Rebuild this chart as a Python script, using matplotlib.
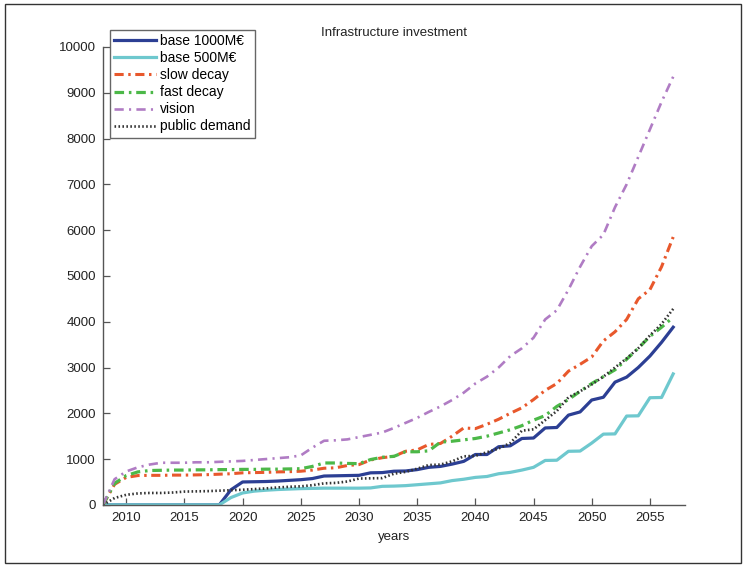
import matplotlib
matplotlib.use("Agg")
import matplotlib.pyplot as plt
from matplotlib.patches import Rectangle

plt.rcParams['font.family'] = ['Liberation Sans', 'DejaVu Sans']

years = list(range(2008, 2058))

base_1000 = [0] * 11 + [
    330, 500, 505, 510, 520, 535, 550, 575, 630, 635,
    640, 645, 700, 705, 735, 740, 770, 820, 840, 890,
    950, 1100, 1100, 1270, 1290, 1450, 1460, 1680, 1690, 1960,
    2030, 2290, 2350, 2680, 2790, 3000, 3250, 3550, 3880]

base_500 = [0] * 11 + [
    160, 260, 300, 320, 335, 345, 355, 360, 365, 365,
    365, 365, 370, 405, 410, 420, 440, 460, 480, 530,
    560, 600, 620, 680, 710, 760, 820, 970, 975, 1170,
    1175, 1350, 1545, 1550, 1940, 1945, 2340, 2345, 2860]

slow_decay = [
    0, 450, 600, 640, 645, 645, 650, 650, 655, 660,
    670, 680, 700, 705, 710, 720, 725, 735, 760, 800,
    810, 860, 880, 980, 1030, 1060, 1170, 1200, 1320, 1340,
    1500, 1680, 1665, 1760, 1870, 2000, 2120, 2300, 2500, 2650,
    2920, 3070, 3230, 3580, 3780, 4050, 4500, 4700, 5200, 5850]

fast_decay = [
    0, 470, 640, 720, 750, 755, 760, 760, 765, 765,
    770, 770, 775, 775, 780, 780, 785, 790, 840, 915,
    915, 905, 900, 990, 1040, 1060, 1160, 1160, 1180, 1370,
    1390, 1420, 1450, 1500, 1570, 1640, 1730, 1850, 1950, 2150,
    2300, 2480, 2650, 2800, 2950, 3180, 3420, 3680, 3880, 4100]

vision = [
    0, 560, 730, 820, 880, 920, 920, 920, 930, 930,
    940, 950, 960, 980, 1000, 1020, 1040, 1080, 1250, 1400,
    1410, 1430, 1480, 1530, 1580, 1680, 1790, 1900, 2030, 2150,
    2290, 2450, 2650, 2800, 3000, 3250, 3420, 3650, 4050, 4250,
    4700, 5200, 5650, 5900, 6500, 7000, 7600, 8200, 8800, 9350]

public_demand = [
    0, 150, 220, 250, 260, 260, 270, 290, 295, 300,
    310, 320, 330, 345, 360, 380, 395, 405, 430, 470,
    480, 510, 575, 580, 585, 680, 720, 790, 870, 880,
    950, 1060, 1070, 1150, 1230, 1350, 1620, 1650, 1850, 2050,
    2350, 2480, 2630, 2800, 3000, 3200, 3420, 3700, 3950, 4280]

labels = ['base 1000M€', 'base 500M€', 'slow decay', 'fast decay',
          'vision', 'public demand']

fig = plt.figure(figsize=(7.46, 5.66), dpi=100)
ax = fig.add_axes([0.138, 0.108, 0.780, 0.809])

ax.plot(years, base_1000, color='#2c3f94', lw=2.3, label=labels[0])
ax.plot(years, base_500, color='#6ec8ce', lw=2.3, label=labels[1])
ax.plot(years, slow_decay, color='#e8582c', lw=2.2,
        linestyle=(0, (3.0, 1.5, 0.8, 1.5)), label=labels[2])
ax.plot(years, fast_decay, color='#4cb848', lw=2.3,
        linestyle=(0, (3.0, 1.5, 0.8, 1.5)), label=labels[3])
ax.plot(years, vision, color='#b07cc4', lw=1.9,
        linestyle=(0, (3.5, 2.0, 0.8, 2.0)), label=labels[4])
ax.plot(years, public_demand, color='#333333', lw=1.9,
        linestyle=(0, (0.6, 0.9)), label=labels[5])

ax.set_xlim(2008, 2058)
ax.set_ylim(0, 10000)
ax.set_xticks(range(2010, 2056, 5))
ax.set_yticks(range(0, 10001, 1000))

for side in ('top', 'right'):
    ax.spines[side].set_visible(False)
for side in ('left', 'bottom'):
    ax.spines[side].set_color('#555555')
    ax.spines[side].set_linewidth(1.0)

ax.tick_params(direction='in', length=5, width=0.9, color='#555555',
               labelsize=9.5, labelcolor='#222222', pad=5)

ax.set_title('Infrastructure investment', fontsize=9.5, color='#222222', pad=8)
ax.set_xlabel('years', fontsize=9.5, color='#222222', labelpad=5)

leg = ax.legend(loc='upper left', bbox_to_anchor=(0.012, 1.037),
                fontsize=10, frameon=True, fancybox=False,
                handlelength=3.0, handletextpad=0.3, labelspacing=0.22,
                borderpad=0.3, borderaxespad=0.0)
leg.get_frame().set_edgecolor('#666666')
leg.get_frame().set_linewidth(1.0)
leg.get_frame().set_alpha(1.0)

# thin frame around the whole figure
fig.patches.append(Rectangle((5 / 746, 3 / 566), 736 / 746, 559 / 566,
                             transform=fig.transFigure, fill=False,
                             edgecolor='#333333', linewidth=1.0))

fig.savefig('out.png', dpi=100)
